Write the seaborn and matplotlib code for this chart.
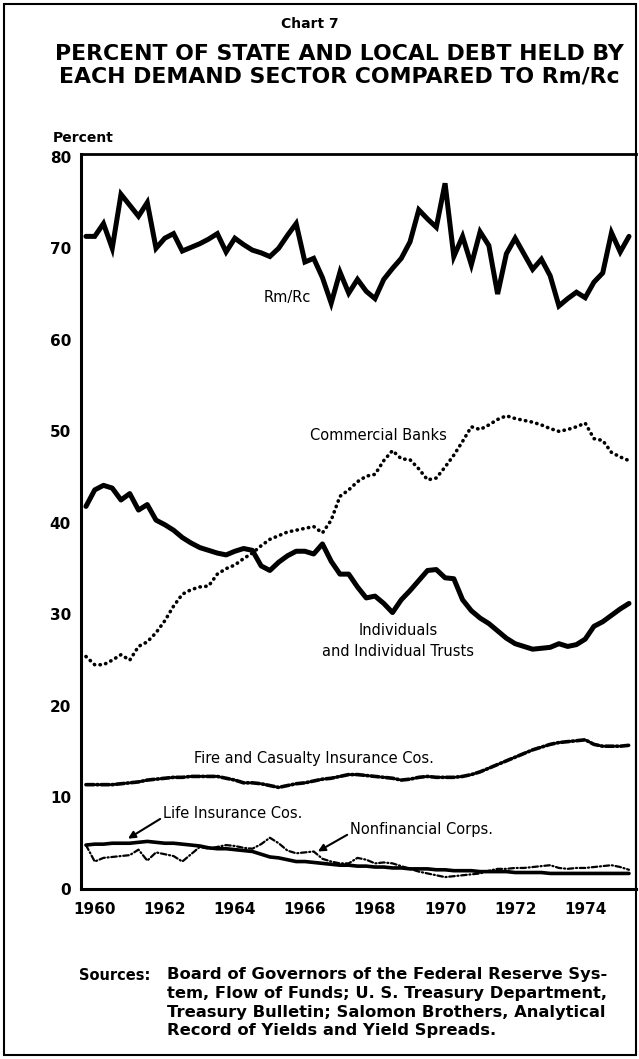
import numpy as np
import pandas as pd
import matplotlib
matplotlib.use("Agg")
import matplotlib.pyplot as plt
import seaborn as sns
from matplotlib.patches import Rectangle

# quarterly observations 1960Q1 - 1975Q3
quarters = pd.period_range("1960Q1", "1975Q3", freq="Q")

rm_rc = [71.3, 71.3, 72.7, 70.0, 75.9, 74.7, 73.5, 75.0, 70.0, 71.1,
         71.6, 69.7, 70.1, 70.5, 71.0, 71.6, 69.6, 71.1, 70.4, 69.8,
         69.5, 69.1, 70.0, 71.4, 72.7, 68.5, 68.9, 66.8, 64.0, 67.4,
         65.1, 66.6, 65.3, 64.5, 66.6, 67.8, 68.9, 70.7, 74.2, 73.2,
         72.3, 77.1, 69.1, 71.3, 68.2, 71.8, 70.3, 65.0, 69.4, 71.1,
         69.4, 67.7, 68.8, 67.0, 63.7, 64.5, 65.2, 64.6, 66.3, 67.3,
         71.7, 69.6, 71.3]

commercial_banks = [25.4, 24.5, 24.5, 25.0, 25.6, 25.0, 26.5, 27.0, 28.0, 29.3,
                    30.9, 32.2, 32.7, 33.0, 33.1, 34.4, 35.0, 35.4, 36.1, 36.7,
                    37.5, 38.2, 38.6, 39.0, 39.2, 39.4, 39.6, 38.9, 40.3, 42.9,
                    43.6, 44.5, 45.1, 45.3, 46.8, 47.9, 47.0, 46.9, 45.9, 44.7,
                    44.9, 46.1, 47.4, 48.9, 50.5, 50.2, 50.7, 51.3, 51.7, 51.4,
                    51.2, 51.0, 50.7, 50.3, 50.0, 50.2, 50.5, 50.9, 49.2, 49.0,
                    47.7, 47.2, 46.8]

individuals = [41.8, 43.6, 44.1, 43.8, 42.5, 43.2, 41.4, 42.0, 40.3, 39.8,
               39.2, 38.4, 37.8, 37.3, 37.0, 36.7, 36.5, 36.9, 37.2, 37.0,
               35.3, 34.8, 35.7, 36.4, 36.9, 36.9, 36.6, 37.7, 35.8, 34.4,
               34.4, 33.0, 31.8, 32.0, 31.2, 30.2, 31.6, 32.6, 33.7, 34.8,
               34.9, 34.0, 33.9, 31.6, 30.4, 29.6, 29.0, 28.2, 27.4, 26.8,
               26.5, 26.2, 26.3, 26.4, 26.8, 26.5, 26.7, 27.3, 28.7, 29.2,
               29.9, 30.6, 31.2]

fire_casualty = [11.4, 11.4, 11.4, 11.4, 11.5, 11.6, 11.7, 11.9, 12.0, 12.1,
                 12.2, 12.2, 12.3, 12.3, 12.3, 12.3, 12.1, 11.9, 11.6, 11.6,
                 11.5, 11.3, 11.1, 11.3, 11.5, 11.6, 11.8, 12.0, 12.1, 12.3,
                 12.5, 12.5, 12.4, 12.3, 12.2, 12.1, 11.9, 12.0, 12.2, 12.3,
                 12.2, 12.2, 12.2, 12.3, 12.5, 12.8, 13.2, 13.6, 14.0, 14.4,
                 14.8, 15.2, 15.5, 15.8, 16.0, 16.1, 16.2, 16.3, 15.8, 15.6,
                 15.6, 15.6, 15.7]

life_insurance = [4.8, 4.9, 4.9, 5.0, 5.0, 5.0, 5.1, 5.2, 5.1, 5.0,
                  5.0, 4.9, 4.8, 4.7, 4.5, 4.4, 4.4, 4.3, 4.2, 4.1,
                  3.8, 3.5, 3.4, 3.2, 3.0, 3.0, 2.9, 2.8, 2.7, 2.6,
                  2.6, 2.5, 2.5, 2.4, 2.4, 2.3, 2.3, 2.2, 2.2, 2.2,
                  2.1, 2.1, 2.0, 2.0, 2.0, 1.9, 1.9, 1.9, 1.9, 1.8,
                  1.8, 1.8, 1.8, 1.7, 1.7, 1.7, 1.7, 1.7, 1.7, 1.7,
                  1.7, 1.7, 1.7]

nonfinancial = [4.8, 3.0, 3.4, 3.5, 3.6, 3.7, 4.3, 3.1, 4.0, 3.8,
                3.6, 3.0, 3.8, 4.6, 4.4, 4.6, 4.8, 4.7, 4.5, 4.4,
                4.9, 5.6, 5.0, 4.2, 3.9, 4.0, 4.1, 3.3, 3.0, 2.8,
                2.8, 3.4, 3.2, 2.8, 2.9, 2.8, 2.5, 2.2, 1.9, 1.7,
                1.5, 1.3, 1.4, 1.5, 1.6, 1.7, 2.0, 2.2, 2.2, 2.3,
                2.3, 2.4, 2.5, 2.6, 2.3, 2.2, 2.3, 2.3, 2.4, 2.5,
                2.6, 2.4, 2.1]

year_labels = ["1960", "1962", "1964", "1966", "1968", "1970", "1972", "1974"]
y_ticks = [0, 10, 20, 30, 40, 50, 60, 70, 80]

df = pd.DataFrame({
    "year": quarters.year + quarters.quarter / 4,
    "Rm/Rc": rm_rc,
    "Commercial Banks": commercial_banks,
    "Individuals": individuals,
    "Fire and Casualty": fire_casualty,
    "Life Insurance": life_insurance,
    "Nonfinancial Corps": nonfinancial,
})

sns.set_style("white")
plt.rcParams["font.family"] = ["DejaVu Sans"]
plt.rcParams["text.color"] = "black"
plt.rcParams["xtick.color"] = "black"
plt.rcParams["ytick.color"] = "black"
plt.rcParams["xtick.labelcolor"] = "black"
plt.rcParams["ytick.labelcolor"] = "black"

W, H = 639, 1059
fig = plt.figure(figsize=(W / 100, H / 100), dpi=100)
ax = fig.add_axes([80.7 / W, (H - 889) / H, (636 - 80.7) / W, (889 - 154) / H])

styles = {
    "Rm/Rc": dict(lw=3.6, ls="-"),
    "Individuals": dict(lw=3.6, ls="-"),
    "Commercial Banks": dict(lw=2.6, ls=(0, (0.1, 1.5)), dash_capstyle="round"),
    "Fire and Casualty": dict(lw=2.6, ls=(0, (2.2, 0.8, 0.4, 0.8)), dash_capstyle="round"),
    "Life Insurance": dict(lw=2.6, ls="-"),
    "Nonfinancial Corps": dict(lw=1.6, ls=(0, (2.5, 1.2, 0.5, 1.2)), dash_capstyle="round"),
}
for name, st in styles.items():
    sns.lineplot(data=df, x="year", y=name, ax=ax, color="black",
                 linewidth=st["lw"], linestyle=st["ls"],
                 dash_capstyle=st.get("dash_capstyle", "butt"),
                 solid_joinstyle="miter" if name == "Rm/Rc" else "round")

ax.set_xlim(1960.1, 1975.95)
ax.set_ylim(0, 80.3)
ax.set_xlabel("")
ax.set_ylabel("")

# y axis
ax.set_yticks(y_ticks)
ax.set_yticklabels([str(t) for t in y_ticks], fontsize=11, fontweight="bold")
ax.tick_params(axis="y", direction="in", length=8, width=2, pad=7)
# x axis: ticks at year boundaries, labels in the middle of the year
ax.set_xticks(range(1961, 1976))
ax.set_xticklabels([])
ax.set_xticks([int(y) + 0.5 for y in year_labels], minor=True)
ax.set_xticklabels(year_labels, minor=True, fontsize=11, fontweight="bold")
ax.tick_params(axis="x", which="major", direction="in", length=6, width=2)
ax.tick_params(axis="x", which="minor", length=0, pad=9)

for side, lw in [("left", 2.2), ("bottom", 2.2), ("top", 2.0), ("right", 1.5)]:
    ax.spines[side].set_visible(True)
    ax.spines[side].set_linewidth(lw)
    ax.spines[side].set_color("black")

# series labels
lab = dict(fontsize=10.5, color="black", ha="center", va="center")
ax.text(1966.0, 64.6, "Rm/Rc", **lab)
ax.text(1968.6, 49.6, "Commercial Banks", **lab)
ax.text(1969.15, 27.1, "Individuals\nand Individual Trusts", linespacing=1.5, **lab)
ax.text(1966.76, 14.3, "Fire and Casualty Insurance Cos.", **lab)
ax.annotate("Life Insurance Cos.", xy=(1961.45, 5.5), xytext=(1964.45, 8.2),
            arrowprops=dict(arrowstyle="-|>", color="black", lw=1.5,
                            shrinkA=0, shrinkB=0, relpos=(0.0, 0.3)), **lab)
ax.annotate("Nonfinancial Corps.", xy=(1966.87, 4.1), xytext=(1969.84, 6.45),
            arrowprops=dict(arrowstyle="-|>", color="black", lw=1.5,
                            shrinkA=0, shrinkB=0, relpos=(0.0, 0.3)), **lab)

# titles and notes
fig.text(310 / W, 1 - 24 / H, "Chart 7", ha="center", va="center", fontsize=10, fontweight="bold")
fig.text(339 / W, 1 - 54 / H, "PERCENT OF STATE AND LOCAL DEBT HELD BY",
         ha="center", va="center", fontsize=15.8, fontweight="heavy")
fig.text(339 / W, 1 - 77 / H, "EACH DEMAND SECTOR COMPARED TO Rm/Rc",
         ha="center", va="center", fontsize=15.8, fontweight="heavy")
fig.text(53 / W, 1 - 138 / H, "Percent", ha="left", va="center", fontsize=10, fontweight="bold")

fig.text(79 / W, 1 - 975 / H, "Sources:", ha="left", va="center", fontsize=10.5, fontweight="bold")
src = ["Board of Governors of the Federal Reserve Sys-",
       "tem, Flow of Funds; U. S. Treasury Department,",
       "Treasury Bulletin; Salomon Brothers, Analytical",
       "Record of Yields and Yield Spreads."]
for i, line in enumerate(src):
    fig.text(167 / W, 1 - (975 + 18.5 * i) / H, line, ha="left", va="center",
             fontsize=11.8, fontweight="bold")

fig.patches.append(Rectangle((4 / W, 4 / H), 632 / W, 1051 / H, transform=fig.transFigure,
                             fill=False, edgecolor="black", linewidth=1.5))

fig.savefig("out.png", dpi=100)
